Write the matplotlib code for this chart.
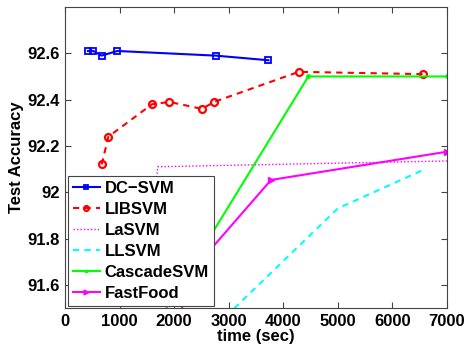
import matplotlib
matplotlib.use('Agg')
import matplotlib.pyplot as plt

# ── Data ─────────────────────────────────────────────────────────────────────
dcsvm_t = [420, 520, 670, 960, 2760, 3730]
dcsvm_acc = [92.61, 92.61, 92.59, 92.61, 92.59, 92.57]

libsvm_t = [673, 795, 1595, 1915, 2509, 2733, 4285, 6564]
libsvm_acc = [92.12, 92.24, 92.38, 92.39, 92.36, 92.39, 92.52, 92.51]

lasvm_t = [1620, 1700, 7000]
lasvm_acc = [91.90, 92.11, 92.135]

llsvm_t = [2800, 5000, 6600]
llsvm_acc = [91.43, 91.93, 92.10]

cascade_t = [1700, 4460, 7000]
cascade_acc = [91.44, 92.50, 92.50]

fastfood_t = [2100, 2400, 3776, 7000]
fastfood_acc = [91.47, 91.68, 92.053, 92.175]

xticks = [0, 1000, 2000, 3000, 4000, 5000, 6000, 7000]
yticks = [91.6, 91.8, 92.0, 92.2, 92.4, 92.6]
ytick_labels = ['91.6', '91.8', '92', '92.2', '92.4', '92.6']

plt.rcParams['font.family'] = ['Liberation Sans', 'DejaVu Sans']
plt.rcParams['font.weight'] = 'bold'

fig = plt.figure(figsize=(4.66, 3.5), dpi=100)
ax = fig.add_axes([0.1395, 0.12, 0.8195, 0.86])

ax.plot(dcsvm_t, dcsvm_acc, color='#0000ff', lw=1.5, marker='s', ms=4.5,
        mfc='none', mew=1.3, label='DC\u2212SVM')
ax.plot(libsvm_t, libsvm_acc, color='#ff0000', lw=1.5, ls=(0, (3, 2.5)),
        marker='o', ms=5, mfc='none', mew=1.6, label='LIBSVM')
ax.plot(lasvm_t, lasvm_acc, color='#ff00ff', lw=1.0, ls=(0, (1, 1.5)),
        label='LaSVM')
ax.plot(llsvm_t, llsvm_acc, color='#00ffff', lw=1.5, ls=(0, (3, 2.5)),
        label='LLSVM')
ax.plot(cascade_t, cascade_acc, color='#00ff00', lw=1.5, marker='.', ms=5,
        label='CascadeSVM')
ax.plot(fastfood_t, fastfood_acc, color='#ff00ff', lw=1.5, marker='>', ms=5,
        label='FastFood')

ax.set_xlim(0, 7000)
ax.set_ylim(91.5, 92.8)
ax.set_xticks(xticks)
ax.set_yticks(yticks)
ax.set_yticklabels(ytick_labels)
ax.tick_params(direction='in', top=True, right=True, labelsize=12,
               length=4, width=0.8, color='#444444', pad=4)
for lbl in ax.get_xticklabels() + ax.get_yticklabels():
    lbl.set_fontweight('bold')
for sp in ax.spines.values():
    sp.set_color('#444444')
    sp.set_linewidth(0.8)

ax.set_xlabel('time (sec)', fontsize=12, fontweight='bold', labelpad=0)
ax.set_ylabel('Test Accuracy', fontsize=12, fontweight='bold', labelpad=2)

leg = ax.legend(loc='lower left', bbox_to_anchor=(0.008, 0.007),
                borderaxespad=0, fancybox=False, framealpha=1,
                edgecolor='#444444', prop={'size': 12, 'weight': 'bold'},
                labelspacing=0.36, handlelength=1.6, handletextpad=0.3,
                borderpad=0.3, markerscale=0.7)
leg.get_frame().set_linewidth(0.8)

fig.savefig('out.png', dpi=100)
